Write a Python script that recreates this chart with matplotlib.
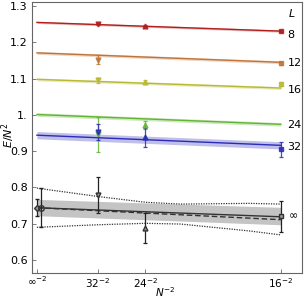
import numpy as np
import matplotlib
matplotlib.use("Agg")
import matplotlib.pyplot as plt
import matplotlib.transforms as mtransforms

# lattice sizes and x positions (N^-2)
N_vals = [32, 24, 16]
x_pts = [1 / n**2 for n in N_vals]
x_fit = [0.0, 1 / 16**2]

L_labels = ["8", "12", "16", "24", "32"]
colors = ["#b0201e", "#c0743a", "#b9b832", "#62b433", "#2b2bb8"]

# linear fit end values at x=0 and x=16^-2
fit_L8 = [1.255, 1.231]
fit_L12 = [1.171, 1.145]
fit_L16 = [1.098, 1.074]
fit_L24 = [1.001, 0.974]
fit_L32 = [0.944, 0.916]
fit_width = [0.003, 0.004, 0.004, 0.005, 0.010]

# data points at N=32, 24, 16 (None = missing)
E_L8 = [1.250, 1.244, 1.232]
err_L8 = [0.003, 0.003, 0.003]
E_L12 = [1.152, None, 1.142]
err_L12 = [0.012, None, 0.004]
E_L16 = [1.095, 1.092, 1.086]
err_L16 = [0.006, 0.005, 0.005]
E_L24 = [0.947, 0.972, None]
err_L24 = [0.048, 0.011, None]
E_L32 = [0.953, 0.938, 0.905]
err_L32 = [0.023, 0.026, 0.020]

# extrapolated (L -> infinity)
E_inf = [0.780, 0.688, 0.720]
err_inf = [0.050, 0.042, 0.043]
fit_inf = [0.744, 0.719]
fit_inf_dashed = [0.744, 0.711]
band_inf_lo = [0.722, 0.697]
band_inf_hi = [0.767, 0.745]
E0_diamond, err0_diamond = 0.744, 0.024
E0_circle, err0_circle = 0.744, 0.054
x_dot = [0.0, 1 / 32**2, 1 / 24**2, 0.0023, 0.0034, 1 / 16**2]
dot_hi = [0.798, 0.775, 0.759, 0.754, 0.756, 0.754]
dot_lo = [0.690, 0.697, 0.701, 0.699, 0.680, 0.669]

fits = [fit_L8, fit_L12, fit_L16, fit_L24, fit_L32]
Es = [E_L8, E_L12, E_L16, E_L24, E_L32]
errs = [err_L8, err_L12, err_L16, err_L24, err_L32]
markers = ["v", "^", "s"]
label_y = [1.220, 1.143, 1.069, 0.972, 0.912]

fig = plt.figure(figsize=(3.04, 3.0), dpi=100)
ax = fig.add_axes([0.105, 0.09, 0.888, 0.903])

for fit, w, E, err, c in zip(fits, fit_width, Es, errs, colors):
    lo = [v - w for v in fit]
    hi = [v + w for v in fit]
    ax.fill_between(x_fit, lo, hi, color=c, alpha=0.3, lw=0)
    ax.plot(x_fit, fit, color=c, lw=1.0)
    for xi, yi, ei, m in zip(x_pts, E, err, markers):
        if yi is None:
            continue
        ax.errorbar(xi, yi, yerr=ei, fmt=m, color=c, ms=3.5, mfc=c,
                    mec=c, elinewidth=0.9, capsize=1.5, capthick=0.9,
                    alpha=0.85)

# extrapolation
ax.fill_between(x_fit, band_inf_lo, band_inf_hi, color="#c4c4c4", lw=0)
ax.plot(x_fit, fit_inf, color="#333333", lw=1.0)
ax.plot(x_fit, fit_inf_dashed, color="#333333", lw=1.0, ls=(0, (4, 2)))
ax.plot(x_dot, dot_hi, color="#333333", lw=0.9, ls=(0, (1, 1)))
ax.plot(x_dot, dot_lo, color="#333333", lw=0.9, ls=(0, (1, 1)))
for xi, yi, ei, m in zip(x_pts, E_inf, err_inf, markers):
    ax.errorbar(xi, yi, yerr=ei, fmt=m, color="#222222", ms=3.5,
                mfc="#999999", mec="#333333", elinewidth=0.9, capsize=1.5,
                capthick=0.9)
ax.errorbar(0.0, E0_diamond, yerr=err0_diamond, fmt="D", color="#222222",
            ms=3, mfc="#999999", mec="#333333", elinewidth=0.9, capsize=1.5)
shift = mtransforms.offset_copy(ax.transData, fig=fig, x=3, y=0, units="points")
ax.errorbar(0.0, E0_circle, yerr=err0_circle, fmt="o", color="#222222",
            ms=4, mfc="none", mec="#333333", elinewidth=0.9, capsize=1.5,
            transform=shift)

# right-hand labels
tr = mtransforms.blended_transform_factory(ax.transAxes, ax.transData)
ax.text(0.952, 1.278, "L", style="italic", fontsize=8, transform=tr,
        ha="left", va="center")
for lab, yl in zip(L_labels, label_y):
    ax.text(0.947, yl, lab, fontsize=8, transform=tr, ha="left", va="center")
ax.text(0.947, 0.724, r"$\infty$", fontsize=8, transform=tr, ha="left",
        va="center")

ax.set_xlim(-0.00008, 0.004244)
ax.set_ylim(0.564, 1.311)
ax.set_xticks([0.0] + x_pts)
ax.set_xticklabels([r"$\infty^{-2}$", r"$32^{-2}$", r"$24^{-2}$", r"$16^{-2}$"])
ax.set_yticks([0.6, 0.7, 0.8, 0.9, 1.0, 1.1, 1.2, 1.3])
ax.set_yticklabels(["0.6", "0.7", "0.8", "0.9", "1.", "1.1", "1.2", "1.3"])
ax.tick_params(direction="in", length=3, width=0.6, labelsize=8,
               color="#666666", pad=3)
ax.tick_params(axis="x", labelsize=7.5, pad=2)
for s in ax.spines.values():
    s.set_color("#666666")
    s.set_linewidth(0.8)

# axis labels placed in figure coords so they stay inside the canvas
fig.text(0.543, 0.027, r"$N^{-2}$", fontsize=7.5, ha="center", va="center")
fig.text(0.027, 0.55, r"$E/N^2$", fontsize=8, ha="center", va="center",
         rotation=90)

plt.savefig("out.png", dpi=100)
